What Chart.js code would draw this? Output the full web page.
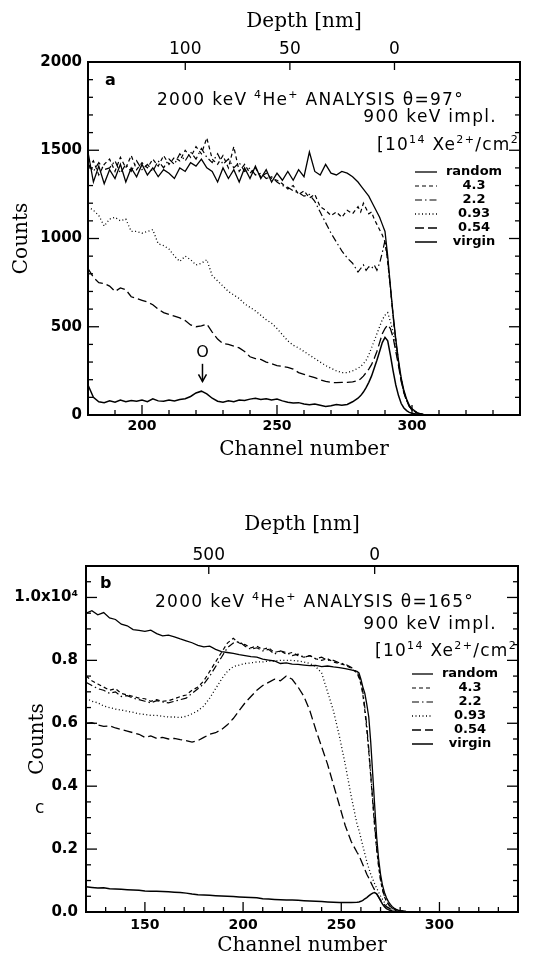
<!DOCTYPE html>
<html lang="en">
<head>
<meta charset="utf-8">
<title>RBS spectra</title>
<script src="https://cdn.jsdelivr.net/npm/chart.js@4.4.1/dist/chart.umd.min.js"></script>
<style>
  html, body { margin: 0; padding: 0; background: #fff; }
  body { width: 542px; height: 958px; position: relative; overflow: hidden; }
  canvas { position: absolute; left: 0; }
</style>
</head>
<body>
<canvas id="graficoA" width="542" height="480" style="top:0"></canvas>
<canvas id="graficoB" width="542" height="478" style="top:480px"></canvas>
<script>
// ========== DATOS PANEL A (theta = 97) ==========
const canalesA = [
  180,182,184,186,188,190,192,194,196,198,
  200,202,204,206,208,210,212,214,216,218,
  220,222,224,226,228,230,232,234,236,238,
  240,242,244,246,248,250,252,254,256,258,
  260,262,264,266,268,270,272,274,276,278,
  280,281,282,283,284,285,286,287,288,289,
  290,291,292,293,294,295,296,297,298,299,
  300,302,304,306,310
];
const randomA = [
  1490,1320,1410,1310,1390,1340,1420,1320,1400,1350,
  1420,1360,1400,1350,1390,1370,1340,1400,1380,1430,
  1410,1450,1400,1380,1320,1400,1340,1390,1320,1400,
  1340,1410,1340,1390,1320,1370,1330,1380,1330,1390,
  1350,1490,1380,1360,1420,1370,1360,1380,1370,1350,
  1320,1300,1280,1260,1240,1210,1180,1150,1120,1080,
  1040,900,730,570,430,310,210,140,90,55,
  35,12,4,0,0
];
const dosis43A = [
  1400,1440,1360,1420,1450,1380,1460,1400,1470,1390,
  1430,1400,1450,1410,1470,1420,1460,1440,1500,1460,
  1520,1480,1570,1450,1420,1470,1400,1520,1380,1420,
  1370,1400,1350,1370,1340,1330,1310,1280,1300,1250,
  1270,1230,1250,1180,1160,1130,1150,1120,1160,1140,
  1180,1150,1200,1170,1140,1150,1110,1080,1050,1020,
  980,870,720,560,420,300,200,130,85,50,
  30,10,3,0,0
];
const dosis22A = [
  1420,1380,1430,1390,1400,1440,1370,1420,1380,1440,
  1390,1420,1380,1440,1400,1450,1420,1480,1440,1490,
  1450,1510,1460,1430,1480,1420,1450,1400,1430,1380,
  1400,1360,1370,1340,1350,1320,1300,1290,1270,1260,
  1240,1250,1210,1150,1090,1030,980,930,890,860,
  810,830,850,820,840,830,850,820,860,920,
  990,880,720,560,420,300,200,130,85,50,
  30,10,3,0,0
];
const dosis093A = [
  1180,1160,1130,1070,1110,1120,1100,1110,1040,1040,
  1030,1040,1050,970,960,940,900,870,900,880,
  850,860,880,790,760,730,700,680,660,630,
  610,590,565,540,520,490,455,420,395,380,
  360,340,320,300,280,265,250,240,240,250,
  265,275,290,310,340,380,420,460,500,540,
  565,580,530,470,380,290,200,130,85,50,
  30,10,3,0,0
];
const dosis054A = [
  830,780,750,745,730,700,720,710,670,660,
  650,640,625,600,580,570,560,550,535,510,
  500,505,515,470,430,405,400,390,380,360,
  330,320,315,300,290,280,275,270,260,240,
  230,220,212,200,190,185,183,185,185,188,
  195,205,220,240,260,285,320,360,410,460,
  490,510,490,440,360,280,190,125,80,48,
  28,10,3,0,0
];
const virgenA = [
  170,100,75,70,80,72,85,75,82,78,
  85,75,92,80,78,85,80,88,92,105,
  125,135,120,95,78,72,80,75,85,82,
  90,95,88,92,85,90,80,72,68,70,
  62,58,62,55,48,52,60,55,60,75,
  95,110,130,155,185,220,265,310,360,410,
  440,420,340,250,170,110,65,40,25,15,
  10,4,1,0,0
];
const ticksCanalA = [200, 250, 300];
const ticksCuentasA = [0, 500, 1000, 1500, 2000];
const ticksProfA = [100, 50, 0];

// ========== DATOS PANEL B (theta = 165) ==========
const canalesB = [
  120,123,126,129,132,135,138,141,144,147,
  150,153,156,159,162,165,168,171,174,177,
  180,183,186,189,192,195,198,201,204,207,
  210,213,216,219,222,225,228,231,234,237,
  240,243,246,249,252,255,258,259,260,261,
  262,263,264,265,266,267,268,269,270,271,
  272,273,274,275,276,277,278,279,280,283,
  286,290
];
const randomB = [
  9500,9580,9450,9520,9350,9300,9150,9100,8980,8950,
  8920,8960,8850,8780,8800,8750,8680,8620,8560,8480,
  8430,8450,8350,8280,8250,8220,8180,8150,8120,8100,
  8040,8010,7980,7900,7920,7880,7870,7850,7830,7840,
  7800,7820,7790,7770,7740,7700,7650,7600,7400,7150,
  6950,6600,6200,5400,4400,3400,2400,1700,1200,850,
  620,450,330,240,170,120,85,60,45,20,
  8,0
];
const dosis43B = [
  7500,7350,7250,7150,7050,7100,6950,6900,6850,6800,
  6780,6700,6750,6700,6720,6780,6850,6900,7050,7150,
  7350,7650,7950,8250,8550,8700,8550,8500,8400,8450,
  8350,8400,8250,8300,8200,8250,8150,8100,8150,8050,
  8000,8050,7950,7900,7850,7750,7600,7450,7250,6900,
  6400,5800,5100,4300,3500,2700,2000,1450,1000,700,
  480,340,240,170,120,85,60,45,35,15,
  5,0
];
const dosis22B = [
  7300,7200,7100,7050,6950,7000,6850,6880,6800,6750,
  6700,6650,6720,6680,6650,6700,6750,6800,6950,7100,
  7250,7500,7800,8100,8400,8550,8600,8450,8350,8400,
  8300,8350,8200,8300,8250,8150,8200,8100,8150,8050,
  8100,8000,8000,7920,7880,7780,7620,7500,7300,7000,
  6500,5900,5200,4400,3600,2800,2050,1500,1050,720,
  500,350,250,175,125,90,62,46,36,15,
  5,0
];
const dosis093B = [
  6800,6700,6650,6550,6500,6450,6420,6380,6350,6300,
  6280,6250,6250,6220,6200,6200,6180,6220,6300,6400,
  6550,6800,7100,7400,7650,7800,7850,7900,7920,7950,
  7950,7980,7980,8000,8000,8000,7980,7950,7900,7800,
  7600,7000,6400,5600,4700,3700,2800,2600,2350,2100,
  1850,1600,1400,1200,1050,900,760,630,510,400,
  300,220,160,120,90,70,55,45,35,15,
  5,0
];
const dosis054B = [
  6000,6020,5950,5900,5920,5850,5800,5750,5700,5650,
  5550,5600,5520,5550,5500,5520,5480,5450,5400,5450,
  5550,5650,5700,5800,5950,6150,6400,6650,6850,7050,
  7200,7300,7400,7350,7500,7400,7150,6850,6400,5800,
  5250,4700,4050,3400,2750,2250,1900,1800,1650,1500,
  1350,1200,1080,950,820,700,580,470,380,300,
  230,170,130,100,75,55,40,30,22,10,
  3,0
];
const virgenB = [
  800,780,760,770,740,730,720,710,700,690,
  670,660,660,650,640,630,620,600,570,550,
  540,530,520,510,500,490,480,470,460,450,
  420,410,400,390,380,380,370,360,350,340,
  330,320,310,300,300,300,310,320,340,370,
  420,460,510,560,600,620,580,480,360,250,
  170,110,75,50,35,25,18,12,8,3,
  1,0
];
const ticksCanalB = [150, 200, 250, 300];
const ticksCuentasB = [0, 2000, 4000, 6000, 8000, 10000];
const ticksProfB = [500, 0];

// etiquetas de la leyenda (mismo orden que las series)
const etiquetasLeyenda = ['random', '4.3', '2.2', '0.93', '0.54', 'virgin'];

// estilo de cada serie: [grosor, patron de trazo]
const estilosSerie = [
  [1.3, []],
  [1.2, [4, 3]],
  [1.2, [7, 3, 1.5, 3]],
  [1.3, [1, 2.5]],
  [1.3, [9, 4]],
  [1.5, []]
];

// ========== TEXTOS DENTRO DE CADA PANEL ==========
const FUENTE_TXT = '17px "DejaVu Sans"';
const FUENTE_SUP = '11px "DejaVu Sans"';

const anotaciones = {
  graficoA: {
    letra: { t: 'a', x: 105, y: 85 },
    lineas: [
      { partes: ['2000 keV ', ['4'], 'He', ['+'], ' ANALYSIS \u03b8=97\u00b0'], x: 157, y: 105, align: 'left' },
      { partes: ['900 keV impl.'], x: 497, y: 122, align: 'right' },
      { partes: ['[10', ['14'], ' Xe', ['2+'], '/cm', ['2']], x: 519, y: 150, align: 'right' }
    ],
    leyenda: { x1: 415, x2: 437, xt: 474, y0: 172, dy: 14 },
    oxigeno: { canal: 222.4, cuentas: 350, flechaDesde: 290, flechaHasta: 190 }
  },
  graficoB: {
    letra: { t: 'b', x: 100, y: 108 },
    lineas: [
      { partes: ['2000 keV ', ['4'], 'He', ['+'], ' ANALYSIS \u03b8=165\u00b0'], x: 155, y: 127, align: 'left' },
      { partes: ['900 keV impl.'], x: 497, y: 149, align: 'right' },
      { partes: ['[10', ['14'], ' Xe', ['2+'], '/cm', ['2']], x: 517, y: 176, align: 'right' }
    ],
    leyenda: { x1: 412, x2: 433, xt: 470, y0: 194, dy: 14 },
    letraExtra: { t: 'c', x: 35, y: 333 }
  }
};

// Función para dibujar texto con superindices
function dibujarTextoRico(ctx, partes, x, y, align) {
  const medir = p => {
    ctx.font = Array.isArray(p) ? FUENTE_SUP : FUENTE_TXT;
    return ctx.measureText(Array.isArray(p) ? p[0] : p).width;
  };
  const total = partes.reduce((s, p) => s + medir(p), 0);
  let cx = align === 'right' ? x - total : x;
  partes.forEach(p => {
    const w = medir(p);
    ctx.fillText(Array.isArray(p) ? p[0] : p, cx, Array.isArray(p) ? y - 7 : y);
    cx += w;
  });
}

// Plugin: marco grueso y marcas hacia dentro
const pluginMarco = {
  id: 'marco',
  afterDatasetsDraw(chart, args, opts) {
    const { ctx, chartArea: area, scales } = chart;
    const linea = (x1, y1, x2, y2) => {
      ctx.beginPath(); ctx.moveTo(x1, y1); ctx.lineTo(x2, y2); ctx.stroke();
    };
    ctx.save();
    ctx.strokeStyle = '#000';
    ctx.lineWidth = 1.3;
    for (let v = scales.x.min; v <= scales.x.max; v += opts.pasoX) {
      const px = scales.x.getPixelForValue(v);
      linea(px, area.bottom, px, area.bottom - (v % opts.mayorX === 0 ? 10 : 5));
    }
    for (let v = scales.y.min; v <= scales.y.max; v += opts.pasoY) {
      const py = scales.y.getPixelForValue(v);
      const largo = v % opts.mayorY === 0 ? 11 : 5;
      linea(area.left, py, area.left + largo, py);
      linea(area.right, py, area.right - largo, py);
    }
    scales.depth.ticks.forEach(t => {
      const px = scales.depth.getPixelForValue(t.value);
      linea(px, area.top, px, area.top + 8);
    });
    ctx.lineWidth = 2;
    ctx.strokeRect(area.left, area.top, area.right - area.left, area.bottom - area.top);
    ctx.restore();
  }
};

// Plugin: textos, leyenda y flecha
const pluginTextos = {
  id: 'textos',
  afterDraw(chart) {
    const cfg = anotaciones[chart.canvas.id];
    if (!cfg) return;
    const ctx = chart.ctx;
    ctx.save();
    ctx.fillStyle = '#000';
    ctx.strokeStyle = '#000';
    ctx.textBaseline = 'alphabetic';

    ctx.font = 'bold 16px "DejaVu Sans"';
    ctx.textAlign = 'left';
    ctx.fillText(cfg.letra.t, cfg.letra.x, cfg.letra.y);
    if (cfg.letraExtra) {
      ctx.font = '17px "DejaVu Sans"';
      ctx.fillText(cfg.letraExtra.t, cfg.letraExtra.x, cfg.letraExtra.y);
    }

    ctx.letterSpacing = '1.3px';
    cfg.lineas.forEach(l => dibujarTextoRico(ctx, l.partes, l.x, l.y, l.align));
    ctx.letterSpacing = '0px';

    // leyenda
    const ley = cfg.leyenda;
    ctx.font = 'bold 13px "DejaVu Sans"';
    ctx.textAlign = 'center';
    ctx.textBaseline = 'middle';
    chart.data.datasets.forEach((ds, i) => {
      const y = ley.y0 + i * ley.dy;
      ctx.lineWidth = ds.borderWidth;
      ctx.setLineDash(ds.borderDash);
      ctx.beginPath(); ctx.moveTo(ley.x1, y); ctx.lineTo(ley.x2, y); ctx.stroke();
      ctx.fillText(etiquetasLeyenda[i], ley.xt, y);
    });
    ctx.setLineDash([]);

    // marca del oxigeno
    if (cfg.oxigeno) {
      const ox = cfg.oxigeno;
      const px = chart.scales.x.getPixelForValue(ox.canal);
      ctx.font = '16px "DejaVu Sans"';
      ctx.fillText('O', px, chart.scales.y.getPixelForValue(ox.cuentas));
      const y1 = chart.scales.y.getPixelForValue(ox.flechaDesde);
      const y2 = chart.scales.y.getPixelForValue(ox.flechaHasta);
      ctx.lineWidth = 1.5;
      ctx.beginPath(); ctx.moveTo(px, y1); ctx.lineTo(px, y2); ctx.stroke();
      ctx.beginPath(); ctx.moveTo(px - 4, y2 - 7); ctx.lineTo(px, y2); ctx.lineTo(px + 4, y2 - 7); ctx.stroke();
    }
    ctx.restore();
  }
};

// Función para armar los datasets de un panel
function construirDatasets(canales, series) {
  return series.map((valores, i) => ({
    label: etiquetasLeyenda[i],
    data: canales.map((c, k) => ({ x: c, y: valores[k] })),
    borderColor: '#000',
    borderWidth: estilosSerie[i][0],
    borderDash: estilosSerie[i][1],
    pointRadius: 0,
    tension: 0,
    fill: false
  }));
}

const fuenteTick = { family: 'DejaVu Sans', size: 15, weight: 'bold' };
const fuenteTitulo = { family: 'DejaVu Serif', size: 20 };

// Función para crear un panel
function crearPanel(id, p) {
  return new Chart(document.getElementById(id), {
    type: 'line',
    data: { datasets: construirDatasets(p.canales, p.series) },
    options: {
      responsive: false,
      animation: false,
      events: [],
      layout: { padding: { left: 0, right: p.derecha, top: 0, bottom: 0 } },
      plugins: {
        legend: { display: false },
        tooltip: { enabled: false },
        marco: p.marco
      },
      scales: {
        x: {
          type: 'linear', position: 'bottom', min: p.xMin, max: p.xMax,
          afterBuildTicks: s => { s.ticks = p.ticksX.map(v => ({ value: v })); },
          afterFit: s => { s.height = p.altoX; },
          grid: { display: false, drawTicks: false },
          border: { display: false },
          ticks: { color: '#000', font: { ...fuenteTick, size: 14 }, padding: p.padX, maxRotation: 0, callback: v => String(v) },
          title: { display: true, text: 'Channel number', color: '#000', font: fuenteTitulo, padding: { top: 0, bottom: p.titX } }
        },
        depth: {
          type: 'linear', position: 'top', min: p.profMin, max: p.profMax, reverse: true,
          afterBuildTicks: s => { s.ticks = p.ticksProf.map(v => ({ value: v })); },
          afterFit: s => { s.height = p.altoProf; },
          grid: { display: false, drawTicks: false },
          border: { display: false },
          ticks: { color: '#000', font: { family: 'DejaVu Sans', size: 17 }, padding: p.padProf, maxRotation: 0, callback: v => String(v) },
          title: { display: true, text: 'Depth [nm]', color: '#000', font: fuenteTitulo, padding: { top: p.titProf, bottom: 0 } }
        },
        y: {
          type: 'linear', position: 'left', min: 0, max: p.yMax,
          afterBuildTicks: s => { s.ticks = p.ticksY.map(v => ({ value: v })); },
          afterFit: s => { s.width = p.anchoY; },
          grid: { display: false, drawTicks: false },
          border: { display: false },
          ticks: { color: '#000', font: fuenteTick, padding: p.padY, callback: p.formatoY },
          title: { display: true, text: 'Counts', color: '#000', font: fuenteTitulo, padding: { top: p.titY, bottom: 0 } }
        }
      }
    },
    plugins: [pluginMarco, pluginTextos]
  });
}

crearPanel('graficoA', {
  canales: canalesA,
  series: [randomA, dosis43A, dosis22A, dosis093A, dosis054A, virgenA],
  xMin: 180, xMax: 340, yMax: 2000,
  profMin: -60, profMax: 146.5,
  ticksX: ticksCanalA, ticksY: ticksCuentasA, ticksProf: ticksProfA,
  formatoY: v => String(v),
  derecha: 22, altoX: 65, altoProf: 62, anchoY: 88,
  padX: 3, padProf: 2, padY: 6,
  titX: 18, titProf: 10, titY: 10,
  marco: { pasoX: 10, mayorX: 50, pasoY: 100, mayorY: 500 }
});

crearPanel('graficoB', {
  canales: canalesB,
  series: [randomB, dosis43B, dosis22B, dosis093B, dosis054B, virgenB],
  xMin: 120, xMax: 340, yMax: 11000,
  profMin: -432, profMax: 870,
  ticksX: ticksCanalB, ticksY: ticksCuentasB, ticksProf: ticksProfB,
  formatoY: v => v === 10000 ? '1.0x10\u2074' : (v / 10000).toFixed(1),
  derecha: 24, altoX: 46, altoProf: 86, anchoY: 86,
  padX: 5, padProf: 0, padY: 8,
  titX: 0, titProf: 33, titY: 26,
  marco: { pasoX: 10, mayorX: 50, pasoY: 500, mayorY: 2000 }
});
</script>
</body>
</html>
